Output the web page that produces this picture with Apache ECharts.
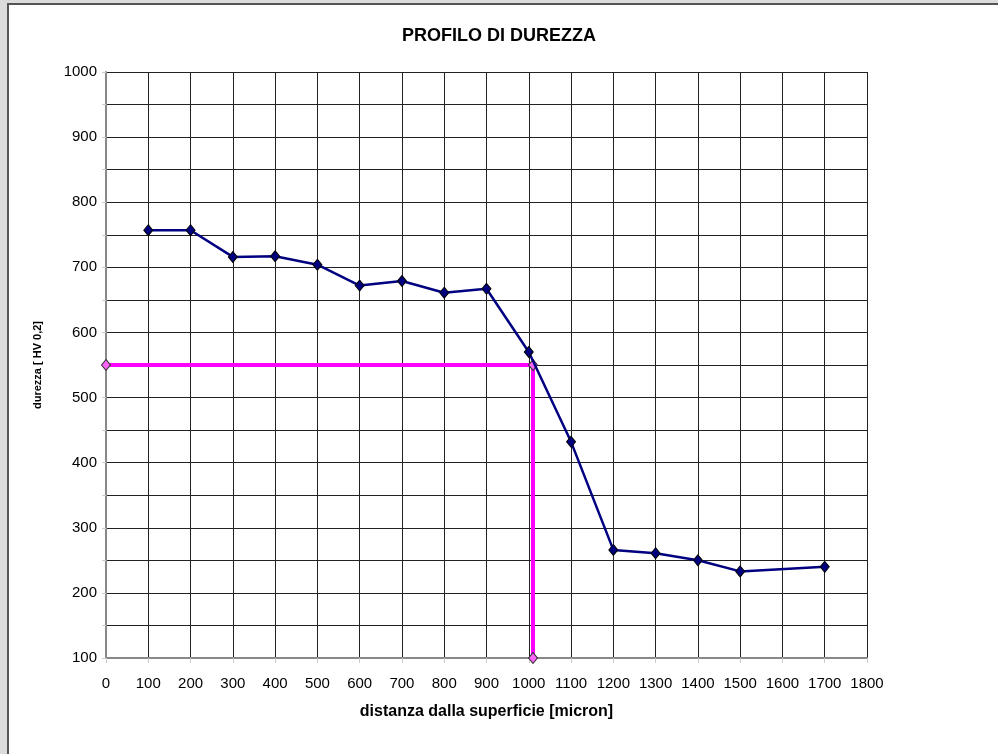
<!DOCTYPE html>
<html>
<head>
<meta charset="utf-8">
<script src="https://cdn.jsdelivr.net/npm/echarts@6/dist/echarts.min.js"></script>
<style>
  html, body { margin: 0; padding: 0; background: #dcdcdc; overflow: hidden; }
  #frame {
    position: absolute; left: 7px; top: 3px; width: 1000px; height: 760px;
    background: #fff; border-left: 2px solid #555; border-top: 2px solid #555;
  }
  #chart { position: absolute; left: -9px; top: -5px; width: 998px; height: 754px; }
</style>
</head>
<body>
<div id="frame"><div id="chart"></div></div>
<script>
// distanza dalla superficie [micron]
var distances = [100, 200, 300, 400, 500, 600, 700, 800, 900, 1000, 1100, 1200, 1300, 1400, 1500, 1700];
// durezza HV 0,2
var hardness = [757, 757, 716, 717, 704, 672, 679, 661, 667, 570, 432, 266, 261, 250, 233, 240];
// linea di riferimento (550 HV)
var refX = [0, 1010, 1010];
var refY = [550, 550, 100];

var chart = echarts.init(document.getElementById('chart'));

var mainData = distances.map((d, i) => [d, hardness[i]]);
var refData = refX.map((x, i) => [x, refY[i]]);

var fontFam = '"Liberation Sans", Arial, sans-serif';

chart.setOption({
    animation: false,
    backgroundColor: 'transparent',
    title: {
        text: 'PROFILO DI DUREZZA',
        left: 'center',
        top: 22,
        textStyle: { fontFamily: fontFam, fontSize: 18, fontWeight: 'bold', color: '#000' }
    },
    grid: { left: 106, right: 131, top: 72, bottom: 96 },
    xAxis: {
        type: 'value',
        min: 0, max: 1800, interval: 100,
        name: 'distanza dalla superficie [micron]',
        nameLocation: 'middle',
        nameGap: 46,
        nameTextStyle: { fontFamily: fontFam, fontSize: 16, fontWeight: 'bold', color: '#000' },
        axisLine: { lineStyle: { color: '#888', width: 2 } },
        axisTick: { show: true, length: 5, lineStyle: { color: '#ccc' } },
        axisLabel: { fontFamily: fontFam, fontSize: 15, color: '#000', margin: 18, formatter: v => String(v) },
        splitLine: { show: true, lineStyle: { color: '#222', width: 1 } }
    },
    yAxis: {
        type: 'value',
        min: 100, max: 1000, interval: 50,
        name: 'durezza [ HV 0,2]',
        nameLocation: 'middle',
        nameGap: 63,
        nameTextStyle: { fontFamily: fontFam, fontSize: 11, fontWeight: 'bold', color: '#000' },
        axisLine: { lineStyle: { color: '#888', width: 2 } },
        axisTick: { show: true, length: 4, lineStyle: { color: '#ccc' } },
        axisLabel: {
            fontFamily: fontFam, fontSize: 15, color: '#000', margin: 9,
            formatter: v => (v % 100 === 0 ? String(v) : '')
        },
        splitLine: { show: true, lineStyle: { color: '#222', width: 1 } }
    },
    series: [
        {
            name: 'durezza',
            type: 'line',
            data: mainData,
            symbol: 'diamond',
            symbolSize: [9, 11],
            lineStyle: { color: '#000080', width: 2.5 },
            itemStyle: { color: '#000080', borderColor: '#000', borderWidth: 1 },
            z: 3
        },
        {
            name: 'riferimento',
            type: 'line',
            data: refData,
            symbol: 'diamond',
            symbolSize: [9, 11],
            lineStyle: { color: '#ff00ff', width: 4 },
            itemStyle: { color: '#ff66ff', borderColor: '#333', borderWidth: 1 },
            z: 2
        }
    ]
});
</script>
</body>
</html>
